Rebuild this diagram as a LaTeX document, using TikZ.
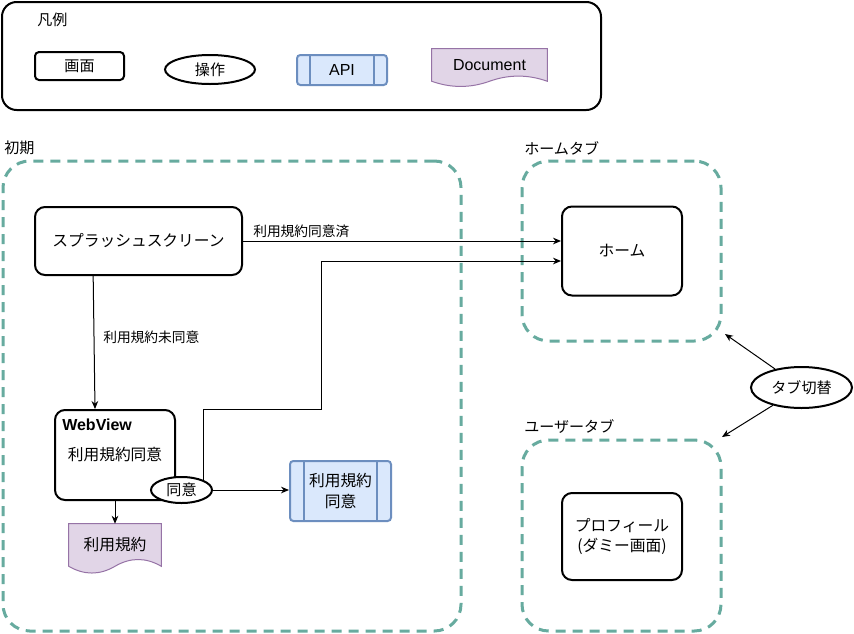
\documentclass[tikz,border=0pt]{standalone}
\usepackage{fontspec}
\setmainfont{Noto Sans CJK JP}
\newfontfamily\latin{Liberation Sans}
\usepackage{tikz}
\usetikzlibrary{arrows.meta,positioning,shapes.geometric,calc,backgrounds}
\usepackage{xcolor}
\definecolor{grpline}{HTML}{67AB9F}
\definecolor{apifill}{HTML}{DAE8FC}
\definecolor{apiline}{HTML}{6C8EBF}
\definecolor{docfill}{HTML}{E1D5E7}
\definecolor{docline}{HTML}{9673A6}

% wavy document outline round a node
\newcommand{\docwave}[1]{%
  \filldraw[fill=docfill,draw=docline,line width=0.75pt]
    let \p1=(#1.north west), \p2=(#1.south east) in
    (\x1,\y1) -- (\x2,\y1) -- (\x2,\y2)
    .. controls ({\x1+0.8333*(\x2-\x1)},{\y1+0.788*(\y2-\y1)}) and ({\x1+0.6667*(\x2-\x1)},{\y1+0.788*(\y2-\y1)}) .. ({0.5*(\x1+\x2)},\y2)
    .. controls ({\x1+0.3333*(\x2-\x1)},{\y1+1.212*(\y2-\y1)}) and ({\x1+0.1667*(\x2-\x1)},{\y1+1.212*(\y2-\y1)}) .. (\x1,\y2)
    -- cycle;}

\begin{document}
\begin{tikzpicture}[x=0.75pt,y=-0.75pt,
    jp/.style={font=\fontsize{11.3}{15}\selectfont},
    big/.style={font=\fontsize{11.8}{15.5}\selectfont},
    edgelabel/.style={font=\fontsize{10.3}{12}\selectfont,inner sep=0pt},
    grplabel/.style={jp,anchor=west,inner sep=0pt},
    screen/.style={draw,line width=1.5pt,rounded corners=7.5pt,align=center,big},
    action/.style={draw,ellipse,line width=1.5pt,inner sep=0pt,jp},
    api/.style={draw=apiline,fill=apifill,line width=1.5pt,rounded corners=2.5pt,align=center,big,
      path picture={
        \draw[apiline,line width=1.5pt]
          ($(path picture bounding box.north west)!0.14!(path picture bounding box.north east)$) --
          ($(path picture bounding box.south west)!0.14!(path picture bounding box.south east)$)
          ($(path picture bounding box.north west)!0.86!(path picture bounding box.north east)$) --
          ($(path picture bounding box.south west)!0.86!(path picture bounding box.south east)$);}},
    doc/.style={inner sep=0pt,align=center,big},
    group/.style={draw=grpline,line width=2.25pt,dash pattern=on 7.5pt off 5.25pt,rounded corners=20pt},
    flow/.style={line width=0.75pt,-{Stealth[length=6pt,width=5pt]}}]
    \useasboundingbox (0,0) rectangle (854,633);
    \begin{scope}[on background layer]
        \fill[white] (0,0) rectangle (854,633);
    \end{scope}
    % Legend
    \node[draw,line width=1.5pt,rounded corners=11pt,minimum width=449.25pt,minimum height=81pt] (legend) at (301.5,56) {};
    \node[grplabel] (legendTitle) at (37,20) {凡例};
    \node[screen,jp,rounded corners=3pt,minimum width=66.75pt,minimum height=21pt] (legScreen) at (79.5,66) {画面};
    \node[action,minimum width=67.5pt,minimum height=21.75pt] (legAction) at (210,69.5) {操作};
    \node[api,minimum width=67.5pt,minimum height=22.5pt,font=\latin\fontsize{12}{14}\selectfont] (legApi) at (342,70) {API};
    \node[doc,minimum width=86.25pt,minimum height=24pt,font=\latin\fontsize{12}{14}\selectfont] (legDoc) at (489.5,65) {Document};
    % Groups
    \node[group,minimum width=343.5pt,minimum height=352.5pt] (grpInit) at (232,396) {};
    \node[grplabel] (grpInitTitle) at (4,148) {初期};
    \node[group,minimum width=149.25pt,minimum height=135pt] (grpHome) at (621.5,251) {};
    \node[grplabel] (grpHomeTitle) at (524,148) {ホームタブ};
    \node[group,minimum width=149.25pt,minimum height=143.25pt] (grpUser) at (621.5,535.5) {};
    \node[grplabel] (grpUserTitle) at (524,427) {ユーザータブ};
    % Screens
    \node[screen,minimum width=155.25pt,minimum height=51pt] (splash) at (138.5,241) {スプラッシュスクリーン};
    \node[screen,minimum width=90pt,minimum height=66.75pt] (home) at (622,251) {ホーム};
    \node[screen,minimum width=90pt,minimum height=65.25pt] (profile) at (622,536.5) {プロフィール\\(ダミー画面)};
    \node[screen,minimum width=90pt,minimum height=67.5pt] (wv) at (115,455) {利用規約同意};
    \node[anchor=west,inner sep=0pt,font=\latin\bfseries\fontsize{12}{14}\selectfont] (wvTitle) at (62,425) {WebView};
    \node[action,fill=white,minimum width=45.75pt,minimum height=19.5pt] (agree) at (181.5,490) {同意};
    \node[api,minimum width=75.75pt,minimum height=45pt] (apiTerms) at (340.5,491) {利用規約\\同意};
    \node[doc,minimum width=69pt,minimum height=31.5pt] (docTerms) at (115,545) {利用規約};
    \node[action,minimum width=75.75pt,minimum height=30.75pt] (tabSwitch) at (801.5,387.5) {タブ切替};
    \begin{scope}[on background layer]
        \docwave{legDoc}
        \docwave{docTerms}
    \end{scope}
    % Connections
    \coordinate (bendA) at (321,409);
    \coordinate (homeTip) at (725,334);
    \coordinate (userTip) at (722,437);
    \draw[flow] (splash.east) -- (splash.east -| home.west);
    \node[edgelabel,anchor=west] (lblDone) at (253,231) {利用規約同意済};
    \draw[flow] ([xshift=-34pt]splash.south) -- ([xshift=-15pt]wv.north);
    \node[edgelabel,anchor=west] (lblNotYet) at (103,337) {利用規約未同意};
    \draw[flow] (agree.north east) |- (bendA) |- ([yshift=-7.5pt]home.west);
    \draw[flow] (agree.east) -- (agree.east -| apiTerms.west);
    \draw[flow] (wv.south) -- (docTerms.north);
    \draw[flow] (tabSwitch) -- (homeTip);
    \draw[flow] (tabSwitch) -- (userTip);
\end{tikzpicture}
\end{document}
